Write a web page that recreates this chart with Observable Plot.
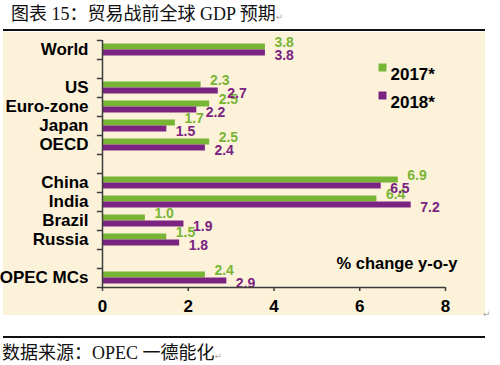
<!DOCTYPE html>
<html>
<head>
<meta charset="utf-8">
<script src="https://cdn.jsdelivr.net/npm/d3@7"></script>
<script src="https://cdn.jsdelivr.net/npm/@observablehq/plot@0.6"></script>
<style>
  html, body { margin: 0; padding: 0; background: #ffffff; }
  #page { position: relative; width: 500px; height: 365px; overflow: hidden; }
  .cjk { font-family: "Liberation Serif", "Noto Sans CJK SC", serif; color: #111; white-space: nowrap; }
  #title { position: absolute; left: 11px; top: 2px; font-size: 18px; line-height: 24px; }
  #caption { position: absolute; left: 2px; top: 341px; font-size: 18px; line-height: 24px; }
  .rule { position: absolute; left: 3px; width: 482px; height: 2px; background: #111; }
  #chart { position: absolute; left: 3px; top: 32px; width: 482px; height: 283px; background: #fcf2da; }
  .mark { color: #aaa; font-size: 9px; font-family: "DejaVu Sans", sans-serif; }
  #pmark { position: absolute; left: 483px; top: 309px; }
</style>
</head>
<body>
<div id="page">
  <div id="title" class="cjk">图表 15：贸易战前全球 GDP 预期<span class="mark">↵</span></div>
  <div class="rule" style="top:29px"></div>
  <div id="chart"></div>
  <div id="pmark" class="mark">↵</div>
  <div class="rule" style="top:336px"></div>
  <div id="caption" class="cjk">数据来源：OPEC 一德能化<span class="mark">↵</span></div>
</div>
<script>
// ---- data ----
const categories = ["World", "_gap1", "US", "Euro-zone", "Japan", "OECD", "_gap2", "China", "India", "Brazil", "Russia", "_gap3", "OPEC MCs"];
const countries = ["World", "US", "Euro-zone", "Japan", "OECD", "China", "India", "Brazil", "Russia", "OPEC MCs"];
const values2017 = [3.8, 2.3, 2.5, 1.7, 2.5, 6.9, 6.4, 1.0, 1.5, 2.4];
const values2018 = [3.8, 2.7, 2.2, 1.5, 2.4, 6.5, 7.2, 1.9, 1.8, 2.9];
const seriesLabels = ["2017*", "2018*"];
const xTicks = [0, 2, 4, 6, 8];
const unitLabel = "% change y-o-y";

// ---- styles ----
const green = "#79b535";
const purple = "#7a2380";
const axisColor = "#3c3c3c";
const font = "Liberation Sans, Arial, sans-serif";

const d17 = countries.map((c, i) => ({country: c, value: values2017[i]}));
const d18 = countries.map((c, i) => ({country: c, value: values2018[i]}));
const half = 247 / categories.length / 2;

const chart = Plot.plot({
  width: 482,
  height: 283,
  marginLeft: 99,
  marginRight: 40,
  marginTop: 8,
  marginBottom: 28,
  style: {background: "#fcf2da", fontFamily: font, overflow: "visible"},
  x: {domain: [0, 8]},
  y: {domain: categories, padding: 0},
  marks: [
    Plot.barX(d17, {x: "value", y: "country", fill: green, insetTop: 3.5, insetBottom: 9.5}),
    Plot.barX(d18, {x: "value", y: "country", fill: purple, insetTop: 9.5, insetBottom: 3.5}),
    Plot.text(d17, {x: "value", y: "country", text: d => d.value.toFixed(1), textAnchor: "start",
      dx: 9, dy: -7, fill: green, fontSize: 14, fontWeight: "bold"}),
    Plot.text(d18, {x: "value", y: "country", text: d => d.value.toFixed(1), textAnchor: "start",
      dx: 9, dy: 6, fill: purple, fontSize: 14, fontWeight: "bold"}),
    // y axis line
    Plot.ruleX([0], {stroke: axisColor, strokeWidth: 1.5}),
    // boundary ticks on the y axis
    Plot.ruleY(categories, {y: d => d, x1: -0.12, x2: 0, dy: -half, stroke: axisColor, strokeWidth: 1.5}),
    Plot.ruleY(categories.slice(-1), {y: d => d, x1: -0.12, x2: 0, dy: half, stroke: axisColor, strokeWidth: 1.5}),
    // x axis line
    Plot.ruleY(categories.slice(-1), {y: d => d, dy: half, stroke: axisColor, strokeWidth: 1.5}),
    Plot.axisX({ticks: xTicks, tickSize: 4, tickPadding: 8, stroke: axisColor, strokeWidth: 1.5,
      fontSize: 17, fontWeight: "bold", fill: "#000", label: null, tickFormat: d => String(d)}),
    Plot.axisY({tickSize: 0, tickPadding: 14, fontSize: 17, fontWeight: "bold", fill: "#000",
      label: null, tickFormat: d => d.startsWith("_") ? "" : d}),
    // legend
    Plot.dot([seriesLabels[0]], {frameAnchor: "top-right", dx: -63, dy: 27, symbol: "square", r: 4.5, fill: green}),
    Plot.text([seriesLabels[0]], {frameAnchor: "top-right", dx: -55, dy: 27, text: d => d, textAnchor: "start",
      fontSize: 17, fontWeight: "bold", fill: "#000"}),
    Plot.dot([seriesLabels[1]], {frameAnchor: "top-right", dx: -63, dy: 55, symbol: "square", r: 4.5, fill: purple}),
    Plot.text([seriesLabels[1]], {frameAnchor: "top-right", dx: -55, dy: 55, text: d => d, textAnchor: "start",
      fontSize: 17, fontWeight: "bold", fill: "#000"}),
    // unit label
    Plot.text([unitLabel], {frameAnchor: "bottom-right", dx: 12, dy: -19, text: d => d, textAnchor: "end",
      fontSize: 16.5, fontWeight: "bold", fill: "#000"})
  ]
});
document.getElementById("chart").appendChild(chart);
</script>
</body>
</html>
